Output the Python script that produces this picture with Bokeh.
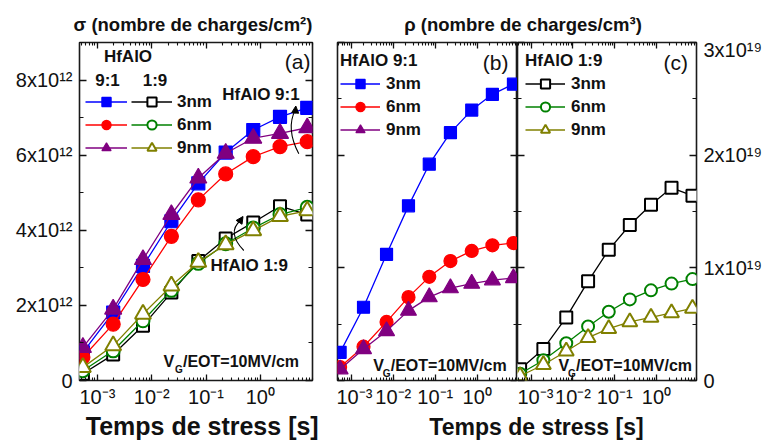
from bokeh.plotting import figure
from bokeh.layouts import row, column
from bokeh.models import (Range1d, LogAxis, LinearAxis, LogTicker, SingleIntervalTicker,
                          CustomJSTickFormatter, Legend, LegendItem, Label, Arrow,
                          NormalHead, ColumnDataSource)
from bokeh.embed import file_html
from bokeh.resources import INLINE

FONT = "Liberation Sans"

# ---------------- data ----------------
times = [5.4e-4, 1.95e-3, 6.9e-3, 2.3e-2, 7.2e-2, 0.23, 0.74, 2.3, 7.3]

SIGMA_UNIT = 1e12   # charges / cm^2
RHO_UNIT = 1e19     # charges / cm^3

# panel (a): sigma, units of 1e12
sig_91_3nm = [0.75, 1.81, 3.05, 4.24, 5.25, 6.07, 6.67, 7.02, 7.26]
sig_91_6nm = [0.62, 1.50, 2.69, 3.84, 4.81, 5.50, 5.96, 6.23, 6.36]
sig_91_9nm = [0.88, 1.90, 3.22, 4.42, 5.39, 6.05, 6.45, 6.58, 6.73]
sig_19_3nm = [0.18, 0.69, 1.46, 2.34, 3.18, 3.78, 4.21, 4.64, 4.42]
sig_19_6nm = [0.26, 0.79, 1.59, 2.40, 3.12, 3.64, 4.06, 4.42, 4.61]
sig_19_9nm = [0.35, 0.93, 1.77, 2.52, 3.15, 3.62, 3.99, 4.37, 4.52]

# panel (b): rho HfAlO 9:1, units of 1e19
rho_91_3nm = [0.25, 0.65, 1.12, 1.55, 1.92, 2.20, 2.40, 2.54, 2.63]
rho_91_6nm = [0.12, 0.30, 0.52, 0.74, 0.92, 1.06, 1.15, 1.20, 1.22]
rho_91_9nm = [0.10, 0.28, 0.44, 0.62, 0.74, 0.82, 0.86, 0.89, 0.91]

# panel (c): rho HfAlO 1:9, units of 1e19
rho_19_3nm = [0.10, 0.28, 0.56, 0.88, 1.16, 1.38, 1.56, 1.71, 1.64]
rho_19_6nm = [0.06, 0.18, 0.33, 0.48, 0.61, 0.72, 0.80, 0.86, 0.90]
rho_19_9nm = [0.04, 0.14, 0.26, 0.38, 0.46, 0.52, 0.56, 0.60, 0.64]

thickness_labels = ["3nm", "6nm", "9nm"]
colors_91 = ["#0000ff", "#ff0000", "#800080"]
colors_19 = ["#000000", "#008000", "#808000"]
markers = ["square", "circle", "triangle"]

# ---------------- geometry ----------------
X_LO, X_HI = 10 ** -3.33, 10 ** 0.96
LOGSPAN = 0.96 + 3.33
SIG_MAX = 9e12
RHO_MAX = 3e19
FRAME_H = 338
A_W, BC_W = 233, 180
HDR_H, PANEL_H, FTR_H = 38, 372, 31


def make_mapper(left, width, ymax):
    def fx(px):
        return 10 ** (-3.33 + (px - left) / width * LOGSPAN)

    def fy(py):
        return (380 - py) / FRAME_H * ymax
    return fx, fy


x_fmt = CustomJSTickFormatter(code="""
const m = {"-":"\u207b","0":"\u2070","1":"\u00b9","2":"\u00b2","3":"\u00b3","4":"\u2074",
           "5":"\u2075","6":"\u2076","7":"\u2077","8":"\u2078","9":"\u2079"};
const e = Math.round(Math.log10(tick));
return "10" + String(e).split("").map(c => m[c]).join("");
""")
ya_fmt = CustomJSTickFormatter(code="""
if (Math.abs(tick) < 1) return "0";
return (tick/1e12).toFixed(0) + "x10\u00b9\u00b2";
""")
yc_fmt = CustomJSTickFormatter(code="""
if (Math.abs(tick) < 1) return "0";
return (tick/1e19).toFixed(0) + "x10\u00b9\u2079";
""")
empty_fmt = CustomJSTickFormatter(code="return '';")


def style_axis(ax, labels, major, minor):
    ax.axis_line_color = None
    ax.major_tick_in = major
    ax.major_tick_out = 0
    ax.minor_tick_in = minor
    ax.minor_tick_out = 0
    ax.major_tick_line_color = "#111111"
    ax.major_tick_line_width = 1.3
    ax.minor_tick_line_color = "#111111"
    ax.minor_tick_line_width = 1.1
    ax.major_label_text_font = FONT
    ax.major_label_text_color = "#111111"
    if labels:
        ax.major_label_text_font_size = "20px"
    else:
        ax.major_label_text_font_size = "0px"
        ax.major_label_standoff = 0


def make_panel(width, bl, br, ymax, interval, left_fmt, right_fmt):
    p = figure(width=width, height=PANEL_H, x_axis_type="log",
               x_range=Range1d(X_LO, X_HI), y_range=Range1d(0, ymax),
               x_axis_location=None, y_axis_location=None,
               toolbar_location=None, output_backend="svg",
               min_border_left=bl, min_border_right=br,
               min_border_top=4, min_border_bottom=30)
    p.xgrid.visible = False
    p.ygrid.visible = False
    p.outline_line_color = "#1a1a1a"
    p.outline_line_width = 1.6
    p.background_fill_color = "white"
    p.border_fill_color = "white"

    bx = LogAxis(ticker=LogTicker(num_minor_ticks=10), formatter=x_fmt)
    style_axis(bx, True, 6, 3)
    bx.major_label_standoff = 5
    p.add_layout(bx, "below")
    tx = LogAxis(ticker=LogTicker(num_minor_ticks=10), formatter=empty_fmt)
    style_axis(tx, False, 6, 3)
    p.add_layout(tx, "above")

    for loc, fmt in (("left", left_fmt), ("right", right_fmt)):
        ax = LinearAxis(ticker=SingleIntervalTicker(interval=interval, num_minor_ticks=2),
                        formatter=fmt if fmt is not None else empty_fmt)
        style_axis(ax, fmt is not None, 7, 4)
        if fmt is not None:
            ax.major_label_standoff = 7
        p.add_layout(ax, loc)
    return p


def add_series(p, values, unit, color, marker, size, filled):
    src = ColumnDataSource(dict(t=times, v=[v * unit for v in values]))
    ln = p.line("t", "v", source=src, line_color=color, line_width=1.3)
    sc = p.scatter("t", "v", source=src, marker=marker, size=size,
                   line_color=color, fill_color=color if filled else "white",
                   line_width=1.2 if filled else 2.0)
    return [ln, sc]


def text(p, x, y, s, size="17px", bold=True, align="left"):
    p.add_layout(Label(x=x, y=y, text=s, text_font=FONT, text_font_size=size,
                       text_font_style="bold" if bold else "normal",
                       text_align=align, text_baseline="middle", text_color="#111111"))


def vg_label(p, fx, fy, left, mid, g_dx, rest_dx):
    text(p, fx(left), fy(mid), "V", size="16px")
    text(p, fx(left + g_dx), fy(mid + 8), "G", size="10px")
    text(p, fx(left + rest_dx), fy(mid), "/EOT=10MV/cm", size="16px")


def legend(items, loc, gw, title=None, label_width=20, standoff=6):
    kw = {}
    if title is not None:
        kw = dict(title=title, title_text_font=FONT, title_text_font_size="17px",
                  title_text_font_style="bold", title_standoff=1, title_text_color="#111111")
    return Legend(items=items, location=loc, padding=0, spacing=0, margin=0,
                  glyph_width=gw, glyph_height=23, label_height=23,
                  label_width=label_width, label_standoff=standoff,
                  label_text_font=FONT, label_text_font_size="17px",
                  label_text_font_style="bold", label_text_color="#111111",
                  border_line_color=None, background_fill_alpha=0, **kw)


# ---------------- panel (a) ----------------
pa = make_panel(79 + A_W + 24, 79, 24, SIG_MAX, 2e12, ya_fmt, None)
ax_, ay_ = make_mapper(79, A_W, SIG_MAX)

r91 = []
for vals, c, m, sz in zip([sig_91_3nm, sig_91_6nm, sig_91_9nm], colors_91, markers, [13, 14, 17]):
    r91.append(add_series(pa, vals, SIGMA_UNIT, c, m, sz, True))
r19 = []
for vals, c, m, sz in zip([sig_19_3nm, sig_19_6nm, sig_19_9nm], colors_19, markers, [12, 13, 16]):
    r19.append(add_series(pa, vals, SIGMA_UNIT, c, m, sz, False))

pa.add_layout(legend([LegendItem(label="", renderers=r) for r in r91], (6, 221), 42,
                     label_width=0, standoff=0))
pa.add_layout(legend([LegendItem(label=l, renderers=r) for l, r in zip(thickness_labels, r19)],
                     (52, 221), 41, standoff=5))

text(pa, ax_(127.5), ay_(56), "HfAlO", align="center")
text(pa, ax_(107), ay_(80), "9:1", align="center")
text(pa, ax_(154.5), ay_(80), "1:9", align="center")
text(pa, ax_(310), ay_(61), "(a)", size="21px", bold=False, align="right")
text(pa, ax_(221.7), ay_(94), "HfAlO 9:1")
text(pa, ax_(210), ay_(265), "HfAlO 1:9")
vg_label(pa, ax_, ay_, 163, 361, 11.5, 19.5)

pa.quadratic(x0=[ax_(298.3), ax_(243.3)], y0=[ay_(153.3), ay_(250)],
             x1=[ax_(295), ax_(240)], y1=[ay_(109), ay_(220)],
             cx=[ax_(285), ax_(226)], cy=[ay_(128), ay_(232)],
             line_color="black", line_width=1.1)
for xs, ys, xe, ye in ((294.6, 113, 295.3, 105.5), (238.5, 222, 242.5, 216)):
    pa.add_layout(Arrow(end=NormalHead(size=7, fill_color="black", line_color="black"),
                        x_start=ax_(xs), y_start=ay_(ys), x_end=ax_(xe), y_end=ay_(ye),
                        line_color="black", line_width=1.1))

# ---------------- panel (b) ----------------
pb = make_panel(1 + BC_W, 1, 0, RHO_MAX, 1e19, None, None)
bx_, by_ = make_mapper(337, BC_W, RHO_MAX)
rb = []
for vals, c, m, sz in zip([rho_91_3nm, rho_91_6nm, rho_91_9nm], colors_91, markers, [12, 13, 16]):
    rb.append(add_series(pb, vals, RHO_UNIT, c, m, sz, True))
pb.add_layout(legend([LegendItem(label=l, renderers=r) for l, r in zip(thickness_labels, rb)],
                     (3, 239), 40, title="HfAlO 9:1", standoff=6))
text(pb, bx_(508), by_(62), "(b)", size="21px", bold=False, align="right")
vg_label(pb, bx_, by_, 372.7, 364.5, 9.5, 17.5)

# ---------------- panel (c) ----------------
pc = make_panel(BC_W + 68, 0, 68, RHO_MAX, 1e19, None, yc_fmt)
cx_, cy_ = make_mapper(517, BC_W, RHO_MAX)
rc = []
for vals, c, m, sz in zip([rho_19_3nm, rho_19_6nm, rho_19_9nm], colors_19, markers, [12, 12, 15]):
    rc.append(add_series(pc, vals, RHO_UNIT, c, m, sz, False))
pc.add_layout(legend([LegendItem(label=l, renderers=r) for l, r in zip(thickness_labels, rc)],
                     (8, 239), 40, title="HfAlO 1:9", standoff=6))
text(pc, cx_(688.5), cy_(62), "(c)", size="21px", bold=False, align="right")
vg_label(pc, cx_, cy_, 558.3, 364.5, 9.5, 17.5)

# ---------------- header / footer ----------------
TOTAL_W = (79 + A_W + 24) + (1 + BC_W) + (BC_W + 68)


def strip(h):
    f = figure(width=TOTAL_W, height=h, x_range=Range1d(0, TOTAL_W), y_range=Range1d(0, h),
               x_axis_location=None, y_axis_location=None, toolbar_location=None,
               output_backend="svg", min_border=0)
    f.xgrid.visible = False
    f.ygrid.visible = False
    f.outline_line_color = None
    return f


hdr = strip(HDR_H)
text(hdr, 192.5, HDR_H - 23.5, "\u03c3 (nombre de charges/cm\u00b2)", size="18.5px",
     align="center")
text(hdr, 522.5, HDR_H - 23.5, "\u03c1 (nombre de charges/cm\u00b3)", size="18.5px",
     align="center")

ftr = strip(FTR_H)
FTR_TOP = 441 - FTR_H
text(ftr, 201.7, FTR_H - (425 - FTR_TOP), "Temps de stress [s]", size="25px", align="center")
text(ftr, 536, FTR_H - (426 - FTR_TOP), "Temps de stress [s]", size="23px", align="center")

layout = column(hdr, row(pa, pb, pc), ftr)
open("out.html", "w").write(file_html(layout, INLINE))
